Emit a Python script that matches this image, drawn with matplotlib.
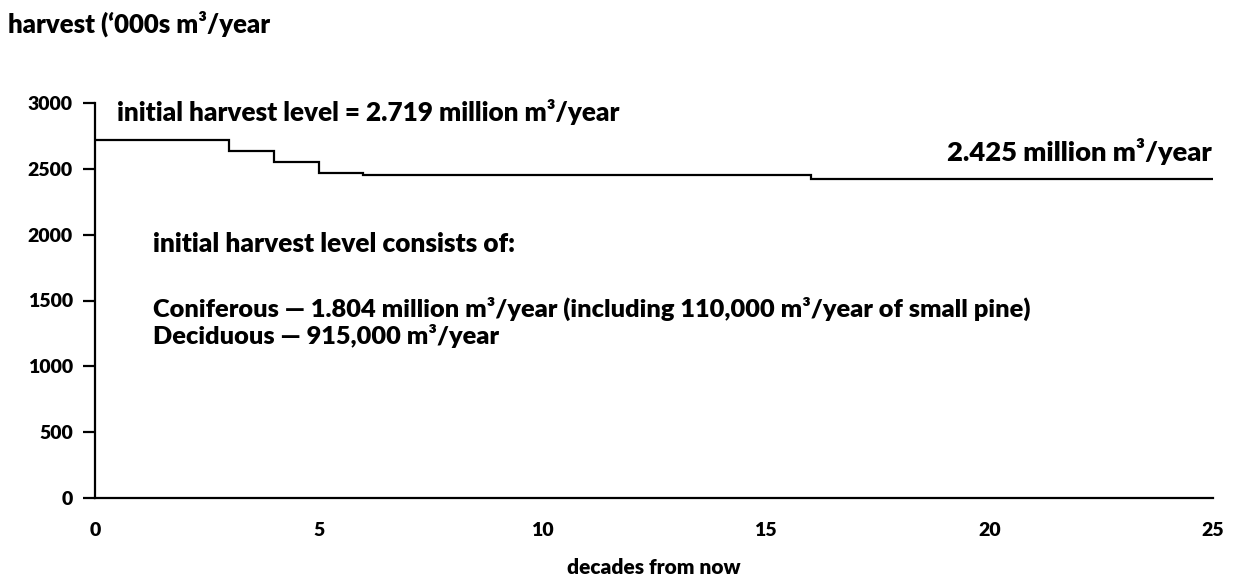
import numpy as np
import matplotlib
matplotlib.use("Agg")
import matplotlib.pyplot as plt

# harvest schedule, '000s m3/year, per decade
decade_edges = [0, 3, 4, 5, 6, 16, 25]
harvest = [2719, 2630, 2550, 2470, 2450, 2425]

y_ticks = [0, 500, 1000, 1500, 2000, 2500, 3000]
x_ticks = [0, 5, 10, 15, 20, 25]

plt.rcParams['font.family'] = ['Lato', 'DejaVu Sans']
WT = 'heavy'

W, H = 1234, 581
fig = plt.figure(figsize=(W / 100, H / 100), dpi=100)
ax = fig.add_axes([95 / W, 1 - 498.3 / H, (1213 - 95) / W, (498.3 - 102.7) / H])

# step line: value holds until next edge
xs = np.repeat(decade_edges, 2)[1:-1]
ys = np.repeat(harvest, 2)
ax.plot(xs, ys, color='black', lw=1.6, solid_joinstyle='miter')

ax.set_xlim(0, 25)
ax.set_ylim(0, 3000)
for s in ['top', 'right']:
    ax.spines[s].set_visible(False)
ax.spines['left'].set_linewidth(1.6)
ax.spines['bottom'].set_linewidth(1.6)

ax.set_yticks(y_ticks)
ax.set_xticks(x_ticks)
ax.tick_params(axis='y', length=9, width=1.6, pad=7, labelsize=14)
ax.tick_params(axis='x', length=0, pad=17, labelsize=14)
for lab in ax.get_xticklabels() + ax.get_yticklabels():
    lab.set_fontweight(WT)

ax.set_xlabel('decades from now', fontsize=15, fontweight=WT, labelpad=14)


def ftext(px, py, s, size, ha='left'):
    fig.text(px / W, 1 - py / H, s, fontsize=size, fontweight=WT,
             ha=ha, va='baseline')


ftext(8, 33, 'harvest (\u2018000s m\u00b3/year', 18.5)
ftext(117, 121, 'initial harvest level = 2.719 million m\u00b3/year', 18.8)
ftext(1212, 161, '2.425 million m\u00b3/year', 19.6, ha='right')
ftext(153, 252, 'initial harvest level consists of:', 18.9)
ftext(153, 317, 'Coniferous \u2014 1.804 million m\u00b3/year (including 110,000 m\u00b3/year of small pine)', 18.3)
ftext(153, 344, 'Deciduous \u2014 915,000 m\u00b3/year', 18.3)

fig.savefig('out.png', dpi=100)
